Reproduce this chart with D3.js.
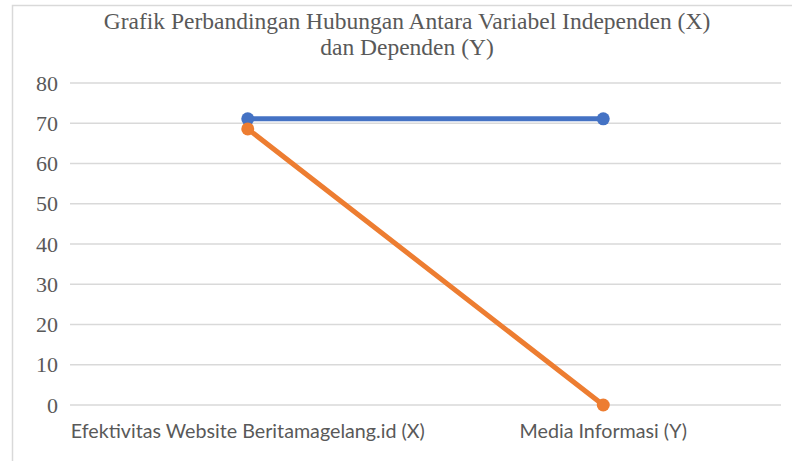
<!DOCTYPE html>
<meta charset="utf-8">
<script src="https://d3js.org/d3.v7.min.js"></script>
<style>
  body { margin: 0; background: #fff; }
</style>
<div id="chart"></div>
<script>

// data
var categories = ["Efektivitas Website Beritamagelang.id (X)", "Media Informasi (Y)"];
var seriesBlue = [71.1, 71.1];
var seriesOrange = [68.6, 0];
var yTicks = [0, 10, 20, 30, 40, 50, 60, 70, 80];
var titleLines = ["Grafik Perbandingan Hubungan Antara Variabel Independen (X)", "dan Dependen (Y)"];

var W = 792, H = 461;
var margin = {top: 83, right: 11, bottom: 56, left: 70},
    width = W - margin.left - margin.right,
    height = H - margin.top - margin.bottom;

var svg = d3.select("#chart")
  .append("svg")
    .attr("width", W)
    .attr("height", H);

// chart border
svg.append("rect")
  .attr("x", 12.5).attr("y", 5.5)
  .attr("width", W).attr("height", H)
  .attr("fill", "none")
  .attr("stroke", "#d9d9d9")
  .attr("stroke-width", 1.5);

// title
svg.append("g").selectAll("text")
  .data(titleLines)
  .enter().append("text")
    .attr("x", 407)
    .attr("y", function(d, i) { return 29 + i * 26; })
    .attr("text-anchor", "middle")
    .style("font-family", "'Liberation Serif', 'DejaVu Serif', serif")
    .style("font-size", "23.5px")
    .style("fill", "#595959")
    .text(function(d) { return d; });

var g = svg.append("g")
  .attr("transform", "translate(" + margin.left + "," + margin.top + ")");

var x = d3.scaleBand()
  .domain(categories)
  .range([0, width]);

var y = d3.scaleLinear()
  .domain([0, 80])
  .range([height, 0]);

// gridlines
g.append("g")
  .selectAll("line")
  .data(yTicks)
  .enter().append("line")
    .attr("x1", 0).attr("x2", width)
    .attr("y1", function(d) { return y(d); })
    .attr("y2", function(d) { return y(d); })
    .attr("stroke", "#d9d9d9")
    .attr("stroke-width", 1.5);

// y axis
var yAxis = g.append("g")
  .call(d3.axisLeft(y).tickValues(yTicks).tickSize(0).tickPadding(12));
yAxis.select(".domain").remove();
yAxis.selectAll("text")
  .style("font-family", "'Liberation Serif', 'DejaVu Serif', serif")
  .style("font-size", "22px")
  .style("fill", "#595959");

// x axis
var xAxis = g.append("g")
  .attr("transform", "translate(0," + height + ")")
  .call(d3.axisBottom(x).tickSize(0).tickPadding(19));
xAxis.select(".domain").remove();
xAxis.selectAll("text")
  .style("font-family", "Lato, 'Open Sans', sans-serif")
  .style("font-size", "19.7px")
  .style("fill", "#595959");

var line = d3.line()
  .x(function(d, i) { return x(categories[i]) + x.bandwidth() / 2; })
  .y(function(d) { return y(d); });

function drawSeries(values, color) {
  g.append("path")
    .datum(values)
    .attr("fill", "none")
    .attr("stroke", color)
    .attr("stroke-width", 5)
    .attr("stroke-linecap", "round")
    .attr("d", line);
  g.append("g")
    .selectAll("circle")
    .data(values)
    .enter().append("circle")
      .attr("cx", function(d, i) { return x(categories[i]) + x.bandwidth() / 2; })
      .attr("cy", function(d) { return y(d); })
      .attr("r", 6.5)
      .attr("fill", color);
}

drawSeries(seriesBlue, "#4472c4");
drawSeries(seriesOrange, "#ed7d31");

</script>
